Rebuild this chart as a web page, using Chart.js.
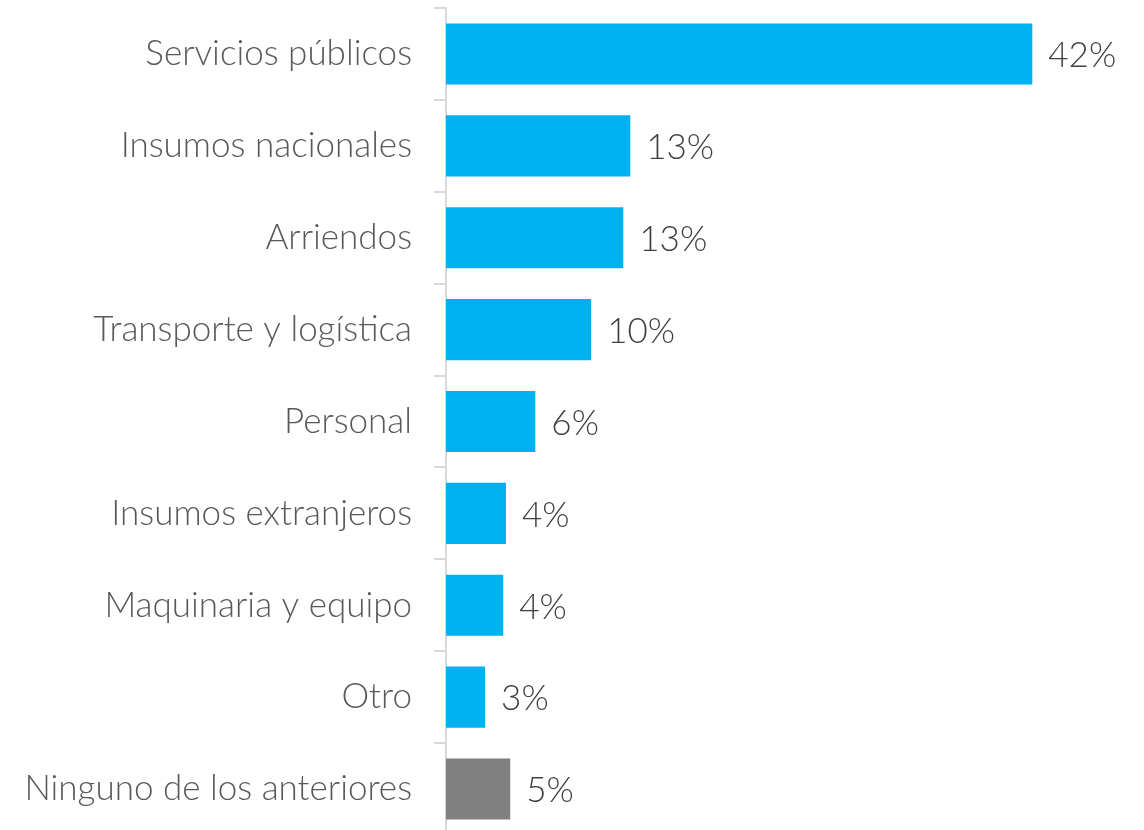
<!DOCTYPE html>
<html>
<head>
<meta charset="utf-8">
<script src="https://cdn.jsdelivr.net/npm/chart.js@4"></script>
<style>
  html, body { margin: 0; padding: 0; background: #fff; overflow: hidden; }
  #wrap { position: relative; width: 1144px; height: 835px; }
</style>
</head>
<body>
<div id="wrap"><canvas id="costChart"></canvas></div>
<script>
var categories = ['Servicios públicos', 'Insumos nacionales', 'Arriendos', 'Transporte y logística', 'Personal', 'Insumos extranjeros', 'Maquinaria y equipo', 'Otro', 'Ninguno de los anteriores'];
var values = [42, 13.2, 12.7, 10.4, 6.4, 4.3, 4.1, 2.8, 4.6];
var valueLabels = ['42%', '13%', '13%', '10%', '6%', '4%', '4%', '3%', '5%'];
var barColors = ['#00B0F0', '#00B0F0', '#00B0F0', '#00B0F0', '#00B0F0', '#00B0F0', '#00B0F0', '#00B0F0', '#808080'];

var fontFamily = 'Lato, "Open Sans", sans-serif';

// draws the % text just right of each bar
var valueLabelPlugin = {
    id: 'valueLabels',
    afterDatasetsDraw: function (chart) {
        var ctx = chart.ctx;
        var meta = chart.getDatasetMeta(0);
        ctx.save();
        ctx.font = '300 35px ' + fontFamily;
        ctx.fillStyle = '#404040';
        ctx.textAlign = 'left';
        ctx.textBaseline = 'middle';
        meta.data.forEach(function (bar, i) {
            ctx.fillText(valueLabels[i], bar.x + 16, bar.y + 2);
        });
        ctx.restore();
    }
};

document.addEventListener('DOMContentLoaded', function () {
    var ctx = document.getElementById('costChart').getContext('2d');
    new Chart(ctx, {
        type: 'bar',
        data: {
            labels: categories,
            datasets: [{
                data: values,
                backgroundColor: barColors,
                borderWidth: 0,
                categoryPercentage: 1,
                barPercentage: 0.665
            }]
        },
        options: {
            indexAxis: 'y',
            responsive: true,
            maintainAspectRatio: false,
            animation: false,
            layout: { padding: { top: 8, right: 0, bottom: 0, left: 0 } },
            plugins: {
                legend: { display: false },
                tooltip: { enabled: false }
            },
            scales: {
                x: {
                    display: false,
                    min: 0,
                    max: 50
                },
                y: {
                    afterFit: function (scale) {
                        scale.width = 446;
                        scale.paddingTop = 0;
                        scale.paddingBottom = 0;
                    },
                    grid: {
                        drawOnChartArea: false,
                        drawTicks: true,
                        tickLength: 12,
                        color: '#d9d9d9',
                        lineWidth: 2
                    },
                    border: { display: true, color: '#d9d9d9', width: 2 },
                    ticks: {
                        padding: 22,
                        color: '#595959',
                        font: { family: fontFamily, size: 35, weight: '300' }
                    }
                }
            }
        },
        plugins: [valueLabelPlugin]
    });
});
</script>
</body>
</html>
